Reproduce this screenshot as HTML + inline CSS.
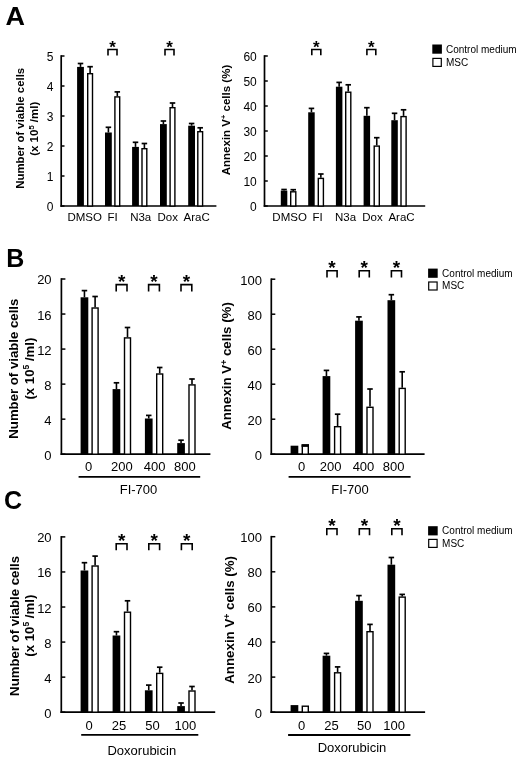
<!DOCTYPE html>
<html><head><meta charset="utf-8"><style>
html,body{margin:0;padding:0;background:#fff;}
svg{display:block;will-change:transform;}
text{font-family:"Liberation Sans", sans-serif;fill:#000;}
</style></head><body>
<svg width="520" height="760" viewBox="0 0 520 760">
<rect width="520" height="760" fill="#fff"/>
<text transform="translate(5.4,25.0) scale(1.07,1.0)" font-size="25.2" font-weight="bold">A</text>
<text x="6.20" y="266.90" font-size="25" text-anchor="start" font-weight="bold" >B</text>
<text x="4.00" y="509.00" font-size="25" text-anchor="start" font-weight="bold" >C</text>
<line x1="61.20" y1="55.20" x2="61.20" y2="206.80" stroke="#000" stroke-width="1.7"/>
<line x1="61.20" y1="206.00" x2="64.50" y2="206.00" stroke="#000" stroke-width="1.5"/>
<text x="53.50" y="211.12" font-size="12" text-anchor="end" font-weight="normal" >0</text>
<line x1="61.20" y1="176.00" x2="64.50" y2="176.00" stroke="#000" stroke-width="1.5"/>
<text x="53.50" y="181.12" font-size="12" text-anchor="end" font-weight="normal" >1</text>
<line x1="61.20" y1="146.00" x2="64.50" y2="146.00" stroke="#000" stroke-width="1.5"/>
<text x="53.50" y="151.12" font-size="12" text-anchor="end" font-weight="normal" >2</text>
<line x1="61.20" y1="116.00" x2="64.50" y2="116.00" stroke="#000" stroke-width="1.5"/>
<text x="53.50" y="121.12" font-size="12" text-anchor="end" font-weight="normal" >3</text>
<line x1="61.20" y1="86.00" x2="64.50" y2="86.00" stroke="#000" stroke-width="1.5"/>
<text x="53.50" y="91.12" font-size="12" text-anchor="end" font-weight="normal" >4</text>
<line x1="61.20" y1="56.00" x2="64.50" y2="56.00" stroke="#000" stroke-width="1.5"/>
<text x="53.50" y="61.12" font-size="12" text-anchor="end" font-weight="normal" >5</text>
<line x1="60.40" y1="206.00" x2="216.40" y2="206.00" stroke="#000" stroke-width="1.7"/>
<rect x="77.10" y="66.90" width="6.80" height="139.10" fill="#000"/>
<line x1="80.50" y1="66.90" x2="80.50" y2="63.50" stroke="#000" stroke-width="1.6"/>
<line x1="77.75" y1="63.50" x2="83.25" y2="63.50" stroke="#000" stroke-width="1.7"/>
<rect x="87.70" y="73.70" width="4.80" height="132.30" fill="#fff" stroke="#000" stroke-width="1.4"/>
<line x1="90.10" y1="73.00" x2="90.10" y2="66.70" stroke="#000" stroke-width="1.6"/>
<line x1="87.35" y1="66.70" x2="92.85" y2="66.70" stroke="#000" stroke-width="1.7"/>
<rect x="105.00" y="132.50" width="6.80" height="73.50" fill="#000"/>
<line x1="108.40" y1="132.50" x2="108.40" y2="127.30" stroke="#000" stroke-width="1.6"/>
<line x1="105.65" y1="127.30" x2="111.15" y2="127.30" stroke="#000" stroke-width="1.7"/>
<rect x="114.90" y="96.90" width="4.80" height="109.10" fill="#fff" stroke="#000" stroke-width="1.4"/>
<line x1="117.30" y1="96.20" x2="117.30" y2="91.90" stroke="#000" stroke-width="1.6"/>
<line x1="114.55" y1="91.90" x2="120.05" y2="91.90" stroke="#000" stroke-width="1.7"/>
<rect x="132.10" y="146.90" width="6.80" height="59.10" fill="#000"/>
<line x1="135.50" y1="146.90" x2="135.50" y2="142.30" stroke="#000" stroke-width="1.6"/>
<line x1="132.75" y1="142.30" x2="138.25" y2="142.30" stroke="#000" stroke-width="1.7"/>
<rect x="142.00" y="148.70" width="4.80" height="57.30" fill="#fff" stroke="#000" stroke-width="1.4"/>
<line x1="144.40" y1="148.00" x2="144.40" y2="143.50" stroke="#000" stroke-width="1.6"/>
<line x1="141.65" y1="143.50" x2="147.15" y2="143.50" stroke="#000" stroke-width="1.7"/>
<rect x="160.00" y="124.10" width="6.80" height="81.90" fill="#000"/>
<line x1="163.40" y1="124.10" x2="163.40" y2="121.00" stroke="#000" stroke-width="1.6"/>
<line x1="160.65" y1="121.00" x2="166.15" y2="121.00" stroke="#000" stroke-width="1.7"/>
<rect x="170.10" y="107.70" width="4.80" height="98.30" fill="#fff" stroke="#000" stroke-width="1.4"/>
<line x1="172.50" y1="107.00" x2="172.50" y2="103.00" stroke="#000" stroke-width="1.6"/>
<line x1="169.75" y1="103.00" x2="175.25" y2="103.00" stroke="#000" stroke-width="1.7"/>
<rect x="188.20" y="125.70" width="6.80" height="80.30" fill="#000"/>
<line x1="191.60" y1="125.70" x2="191.60" y2="123.50" stroke="#000" stroke-width="1.6"/>
<line x1="188.85" y1="123.50" x2="194.35" y2="123.50" stroke="#000" stroke-width="1.7"/>
<rect x="197.80" y="131.70" width="4.80" height="74.30" fill="#fff" stroke="#000" stroke-width="1.4"/>
<line x1="200.20" y1="131.00" x2="200.20" y2="127.80" stroke="#000" stroke-width="1.6"/>
<line x1="197.45" y1="127.80" x2="202.95" y2="127.80" stroke="#000" stroke-width="1.7"/>
<text x="84.70" y="221.00" font-size="11.5" text-anchor="middle" font-weight="normal" >DMSO</text>
<text x="112.70" y="221.00" font-size="11.5" text-anchor="middle" font-weight="normal" >FI</text>
<text x="140.70" y="221.00" font-size="11.5" text-anchor="middle" font-weight="normal" >N3a</text>
<text x="167.70" y="221.00" font-size="11.5" text-anchor="middle" font-weight="normal" >Dox</text>
<text x="196.70" y="221.00" font-size="11.5" text-anchor="middle" font-weight="normal" >AraC</text>
<path d="M108.00,55.40 V49.50 H117.00 V55.40" fill="none" stroke="#000" stroke-width="1.6"/>
<text x="112.50" y="52.60" font-size="17" text-anchor="middle" font-weight="bold" >*</text>
<path d="M165.00,55.40 V49.50 H174.00 V55.40" fill="none" stroke="#000" stroke-width="1.6"/>
<text x="169.50" y="52.60" font-size="17" text-anchor="middle" font-weight="bold" >*</text>
<text transform="translate(23.90,128.30) rotate(-90)" font-size="11.4" text-anchor="middle" font-weight="bold">Number of viable cells</text>
<text transform="translate(37.50,128.80) rotate(-90)" font-size="11.5" text-anchor="middle" font-weight="bold">(x 10<tspan font-size="7.5" dy="-3.6">5</tspan><tspan dy="3.6"> /ml)</tspan></text>
<line x1="264.50" y1="55.20" x2="264.50" y2="206.80" stroke="#000" stroke-width="1.7"/>
<line x1="264.50" y1="206.00" x2="267.80" y2="206.00" stroke="#000" stroke-width="1.5"/>
<text x="256.80" y="211.12" font-size="12" text-anchor="end" font-weight="normal" >0</text>
<line x1="264.50" y1="181.00" x2="267.80" y2="181.00" stroke="#000" stroke-width="1.5"/>
<text x="256.80" y="186.12" font-size="12" text-anchor="end" font-weight="normal" >10</text>
<line x1="264.50" y1="156.00" x2="267.80" y2="156.00" stroke="#000" stroke-width="1.5"/>
<text x="256.80" y="161.12" font-size="12" text-anchor="end" font-weight="normal" >20</text>
<line x1="264.50" y1="131.00" x2="267.80" y2="131.00" stroke="#000" stroke-width="1.5"/>
<text x="256.80" y="136.12" font-size="12" text-anchor="end" font-weight="normal" >30</text>
<line x1="264.50" y1="106.00" x2="267.80" y2="106.00" stroke="#000" stroke-width="1.5"/>
<text x="256.80" y="111.12" font-size="12" text-anchor="end" font-weight="normal" >40</text>
<line x1="264.50" y1="81.00" x2="267.80" y2="81.00" stroke="#000" stroke-width="1.5"/>
<text x="256.80" y="86.12" font-size="12" text-anchor="end" font-weight="normal" >50</text>
<line x1="264.50" y1="56.00" x2="267.80" y2="56.00" stroke="#000" stroke-width="1.5"/>
<text x="256.80" y="61.12" font-size="12" text-anchor="end" font-weight="normal" >60</text>
<line x1="263.70" y1="206.00" x2="425.20" y2="206.00" stroke="#000" stroke-width="1.7"/>
<rect x="280.80" y="190.60" width="6.50" height="15.40" fill="#000"/>
<line x1="284.05" y1="190.60" x2="284.05" y2="189.50" stroke="#000" stroke-width="1.6"/>
<line x1="281.30" y1="189.50" x2="286.80" y2="189.50" stroke="#000" stroke-width="1.7"/>
<rect x="290.70" y="191.80" width="5.10" height="14.20" fill="#fff" stroke="#000" stroke-width="1.4"/>
<line x1="293.25" y1="191.10" x2="293.25" y2="189.70" stroke="#000" stroke-width="1.6"/>
<line x1="290.50" y1="189.70" x2="296.00" y2="189.70" stroke="#000" stroke-width="1.7"/>
<rect x="308.20" y="112.30" width="6.50" height="93.70" fill="#000"/>
<line x1="311.45" y1="112.30" x2="311.45" y2="108.40" stroke="#000" stroke-width="1.6"/>
<line x1="308.70" y1="108.40" x2="314.20" y2="108.40" stroke="#000" stroke-width="1.7"/>
<rect x="318.30" y="178.40" width="5.10" height="27.60" fill="#fff" stroke="#000" stroke-width="1.4"/>
<line x1="320.85" y1="177.70" x2="320.85" y2="174.00" stroke="#000" stroke-width="1.6"/>
<line x1="318.10" y1="174.00" x2="323.60" y2="174.00" stroke="#000" stroke-width="1.7"/>
<rect x="335.90" y="86.70" width="6.50" height="119.30" fill="#000"/>
<line x1="339.15" y1="86.70" x2="339.15" y2="82.40" stroke="#000" stroke-width="1.6"/>
<line x1="336.40" y1="82.40" x2="341.90" y2="82.40" stroke="#000" stroke-width="1.7"/>
<rect x="345.70" y="92.20" width="5.10" height="113.80" fill="#fff" stroke="#000" stroke-width="1.4"/>
<line x1="348.25" y1="91.50" x2="348.25" y2="84.80" stroke="#000" stroke-width="1.6"/>
<line x1="345.50" y1="84.80" x2="351.00" y2="84.80" stroke="#000" stroke-width="1.7"/>
<rect x="363.60" y="115.80" width="6.50" height="90.20" fill="#000"/>
<line x1="366.85" y1="115.80" x2="366.85" y2="107.70" stroke="#000" stroke-width="1.6"/>
<line x1="364.10" y1="107.70" x2="369.60" y2="107.70" stroke="#000" stroke-width="1.7"/>
<rect x="374.20" y="146.10" width="5.10" height="59.90" fill="#fff" stroke="#000" stroke-width="1.4"/>
<line x1="376.75" y1="145.40" x2="376.75" y2="137.70" stroke="#000" stroke-width="1.6"/>
<line x1="374.00" y1="137.70" x2="379.50" y2="137.70" stroke="#000" stroke-width="1.7"/>
<rect x="391.30" y="120.20" width="6.50" height="85.80" fill="#000"/>
<line x1="394.55" y1="120.20" x2="394.55" y2="113.30" stroke="#000" stroke-width="1.6"/>
<line x1="391.80" y1="113.30" x2="397.30" y2="113.30" stroke="#000" stroke-width="1.7"/>
<rect x="401.00" y="116.60" width="5.10" height="89.40" fill="#fff" stroke="#000" stroke-width="1.4"/>
<line x1="403.55" y1="115.90" x2="403.55" y2="109.80" stroke="#000" stroke-width="1.6"/>
<line x1="400.80" y1="109.80" x2="406.30" y2="109.80" stroke="#000" stroke-width="1.7"/>
<text x="289.60" y="220.80" font-size="11.5" text-anchor="middle" font-weight="normal" >DMSO</text>
<text x="317.50" y="220.80" font-size="11.5" text-anchor="middle" font-weight="normal" >FI</text>
<text x="345.60" y="220.80" font-size="11.5" text-anchor="middle" font-weight="normal" >N3a</text>
<text x="372.50" y="220.80" font-size="11.5" text-anchor="middle" font-weight="normal" >Dox</text>
<text x="401.50" y="220.80" font-size="11.5" text-anchor="middle" font-weight="normal" >AraC</text>
<path d="M311.80,55.20 V49.50 H320.80 V55.20" fill="none" stroke="#000" stroke-width="1.6"/>
<text x="316.30" y="52.60" font-size="17" text-anchor="middle" font-weight="bold" >*</text>
<path d="M366.90,55.20 V49.50 H375.80 V55.20" fill="none" stroke="#000" stroke-width="1.6"/>
<text x="371.35" y="52.60" font-size="17" text-anchor="middle" font-weight="bold" >*</text>
<text transform="translate(230.40,120.00) rotate(-90)" font-size="11.5" text-anchor="middle" font-weight="bold">Annexin V<tspan font-size="7.5" dy="-4">+</tspan><tspan dy="4"> cells (%)</tspan></text>
<rect x="432.30" y="44.50" width="9.6" height="9.2" fill="#000"/>
<rect x="432.90" y="58.40" width="8.4" height="8.0" fill="#fff" stroke="#000" stroke-width="1.2"/>
<text x="446.00" y="52.80" font-size="10" text-anchor="start" font-weight="normal" >Control medium</text>
<text x="446.00" y="65.60" font-size="10" text-anchor="start" font-weight="normal" >MSC</text>
<line x1="61.40" y1="278.20" x2="61.40" y2="455.00" stroke="#000" stroke-width="1.7"/>
<line x1="61.40" y1="454.20" x2="65.40" y2="454.20" stroke="#000" stroke-width="1.5"/>
<text x="51.60" y="459.68" font-size="13" text-anchor="end" font-weight="normal" >0</text>
<line x1="61.40" y1="419.16" x2="65.40" y2="419.16" stroke="#000" stroke-width="1.5"/>
<text x="51.60" y="424.64" font-size="13" text-anchor="end" font-weight="normal" >4</text>
<line x1="61.40" y1="384.12" x2="65.40" y2="384.12" stroke="#000" stroke-width="1.5"/>
<text x="51.60" y="389.60" font-size="13" text-anchor="end" font-weight="normal" >8</text>
<line x1="61.40" y1="349.08" x2="65.40" y2="349.08" stroke="#000" stroke-width="1.5"/>
<text x="51.60" y="354.56" font-size="13" text-anchor="end" font-weight="normal" >12</text>
<line x1="61.40" y1="314.04" x2="65.40" y2="314.04" stroke="#000" stroke-width="1.5"/>
<text x="51.60" y="319.52" font-size="13" text-anchor="end" font-weight="normal" >16</text>
<line x1="61.40" y1="279.00" x2="65.40" y2="279.00" stroke="#000" stroke-width="1.5"/>
<text x="51.60" y="284.48" font-size="13" text-anchor="end" font-weight="normal" >20</text>
<line x1="60.60" y1="454.20" x2="210.40" y2="454.20" stroke="#000" stroke-width="1.7"/>
<rect x="80.60" y="297.30" width="7.70" height="156.90" fill="#000"/>
<line x1="84.45" y1="297.30" x2="84.45" y2="290.60" stroke="#000" stroke-width="1.6"/>
<line x1="81.70" y1="290.60" x2="87.20" y2="290.60" stroke="#000" stroke-width="1.7"/>
<rect x="92.10" y="308.00" width="6.00" height="146.20" fill="#fff" stroke="#000" stroke-width="1.4"/>
<line x1="95.10" y1="307.30" x2="95.10" y2="296.50" stroke="#000" stroke-width="1.6"/>
<line x1="92.35" y1="296.50" x2="97.85" y2="296.50" stroke="#000" stroke-width="1.7"/>
<rect x="112.60" y="389.10" width="7.70" height="65.10" fill="#000"/>
<line x1="116.45" y1="389.10" x2="116.45" y2="382.80" stroke="#000" stroke-width="1.6"/>
<line x1="113.70" y1="382.80" x2="119.20" y2="382.80" stroke="#000" stroke-width="1.7"/>
<rect x="124.50" y="337.90" width="6.00" height="116.30" fill="#fff" stroke="#000" stroke-width="1.4"/>
<line x1="127.50" y1="337.20" x2="127.50" y2="327.50" stroke="#000" stroke-width="1.6"/>
<line x1="124.75" y1="327.50" x2="130.25" y2="327.50" stroke="#000" stroke-width="1.7"/>
<rect x="144.90" y="418.50" width="7.70" height="35.70" fill="#000"/>
<line x1="148.75" y1="418.50" x2="148.75" y2="415.40" stroke="#000" stroke-width="1.6"/>
<line x1="146.00" y1="415.40" x2="151.50" y2="415.40" stroke="#000" stroke-width="1.7"/>
<rect x="156.70" y="374.00" width="6.00" height="80.20" fill="#fff" stroke="#000" stroke-width="1.4"/>
<line x1="159.70" y1="373.30" x2="159.70" y2="367.50" stroke="#000" stroke-width="1.6"/>
<line x1="156.95" y1="367.50" x2="162.45" y2="367.50" stroke="#000" stroke-width="1.7"/>
<rect x="177.20" y="443.10" width="7.70" height="11.10" fill="#000"/>
<line x1="181.05" y1="443.10" x2="181.05" y2="440.20" stroke="#000" stroke-width="1.6"/>
<line x1="178.30" y1="440.20" x2="183.80" y2="440.20" stroke="#000" stroke-width="1.7"/>
<rect x="189.00" y="384.90" width="6.00" height="69.30" fill="#fff" stroke="#000" stroke-width="1.4"/>
<line x1="192.00" y1="384.20" x2="192.00" y2="379.00" stroke="#000" stroke-width="1.6"/>
<line x1="189.25" y1="379.00" x2="194.75" y2="379.00" stroke="#000" stroke-width="1.7"/>
<text x="88.50" y="471.20" font-size="13" text-anchor="middle" font-weight="normal" >0</text>
<text x="121.90" y="471.20" font-size="13" text-anchor="middle" font-weight="normal" >200</text>
<text x="154.70" y="471.20" font-size="13" text-anchor="middle" font-weight="normal" >400</text>
<text x="184.80" y="471.20" font-size="13" text-anchor="middle" font-weight="normal" >800</text>
<line x1="78.60" y1="476.80" x2="200.20" y2="476.80" stroke="#000" stroke-width="1.8"/>
<text x="138.50" y="493.60" font-size="13" text-anchor="middle" font-weight="normal" >FI-700</text>
<path d="M116.20,291.60 V284.60 H127.00 V291.60" fill="none" stroke="#000" stroke-width="1.6"/>
<text x="121.60" y="288.00" font-size="19" text-anchor="middle" font-weight="bold" >*</text>
<path d="M148.60,291.60 V284.60 H159.40 V291.60" fill="none" stroke="#000" stroke-width="1.6"/>
<text x="154.00" y="288.00" font-size="19" text-anchor="middle" font-weight="bold" >*</text>
<path d="M181.00,291.60 V284.60 H191.80 V291.60" fill="none" stroke="#000" stroke-width="1.6"/>
<text x="186.40" y="288.00" font-size="19" text-anchor="middle" font-weight="bold" >*</text>
<text transform="translate(18.40,368.70) rotate(-90)" font-size="13.2" text-anchor="middle" font-weight="bold">Number of viable cells</text>
<text transform="translate(33.60,368.60) rotate(-90)" font-size="13.2" text-anchor="middle" font-weight="bold">(x 10<tspan font-size="8.6" dy="-4.5">5</tspan><tspan dy="4.5"> /ml)</tspan></text>
<line x1="271.30" y1="278.40" x2="271.30" y2="455.00" stroke="#000" stroke-width="1.7"/>
<line x1="271.30" y1="454.20" x2="275.30" y2="454.20" stroke="#000" stroke-width="1.5"/>
<text x="262.00" y="459.68" font-size="13" text-anchor="end" font-weight="normal" >0</text>
<line x1="271.30" y1="419.20" x2="275.30" y2="419.20" stroke="#000" stroke-width="1.5"/>
<text x="262.00" y="424.68" font-size="13" text-anchor="end" font-weight="normal" >20</text>
<line x1="271.30" y1="384.20" x2="275.30" y2="384.20" stroke="#000" stroke-width="1.5"/>
<text x="262.00" y="389.68" font-size="13" text-anchor="end" font-weight="normal" >40</text>
<line x1="271.30" y1="349.20" x2="275.30" y2="349.20" stroke="#000" stroke-width="1.5"/>
<text x="262.00" y="354.68" font-size="13" text-anchor="end" font-weight="normal" >60</text>
<line x1="271.30" y1="314.20" x2="275.30" y2="314.20" stroke="#000" stroke-width="1.5"/>
<text x="262.00" y="319.68" font-size="13" text-anchor="end" font-weight="normal" >80</text>
<line x1="271.30" y1="279.20" x2="275.30" y2="279.20" stroke="#000" stroke-width="1.5"/>
<text x="262.00" y="284.68" font-size="13" text-anchor="end" font-weight="normal" >100</text>
<line x1="270.50" y1="454.20" x2="424.60" y2="454.20" stroke="#000" stroke-width="1.7"/>
<rect x="290.60" y="445.70" width="7.70" height="8.50" fill="#000"/>
<rect x="302.30" y="445.00" width="6.00" height="9.20" fill="#fff" stroke="#000" stroke-width="1.4"/>
<rect x="322.60" y="376.10" width="7.70" height="78.10" fill="#000"/>
<line x1="326.45" y1="376.10" x2="326.45" y2="370.40" stroke="#000" stroke-width="1.6"/>
<line x1="323.70" y1="370.40" x2="329.20" y2="370.40" stroke="#000" stroke-width="1.7"/>
<rect x="334.60" y="426.70" width="6.00" height="27.50" fill="#fff" stroke="#000" stroke-width="1.4"/>
<line x1="337.60" y1="426.00" x2="337.60" y2="414.20" stroke="#000" stroke-width="1.6"/>
<line x1="334.85" y1="414.20" x2="340.35" y2="414.20" stroke="#000" stroke-width="1.7"/>
<rect x="355.10" y="320.70" width="7.70" height="133.50" fill="#000"/>
<line x1="358.95" y1="320.70" x2="358.95" y2="316.90" stroke="#000" stroke-width="1.6"/>
<line x1="356.20" y1="316.90" x2="361.70" y2="316.90" stroke="#000" stroke-width="1.7"/>
<rect x="367.00" y="407.30" width="6.00" height="46.90" fill="#fff" stroke="#000" stroke-width="1.4"/>
<line x1="370.00" y1="406.60" x2="370.00" y2="389.00" stroke="#000" stroke-width="1.6"/>
<line x1="367.25" y1="389.00" x2="372.75" y2="389.00" stroke="#000" stroke-width="1.7"/>
<rect x="387.50" y="300.20" width="7.70" height="154.00" fill="#000"/>
<line x1="391.35" y1="300.20" x2="391.35" y2="294.70" stroke="#000" stroke-width="1.6"/>
<line x1="388.60" y1="294.70" x2="394.10" y2="294.70" stroke="#000" stroke-width="1.7"/>
<rect x="399.20" y="388.40" width="6.00" height="65.80" fill="#fff" stroke="#000" stroke-width="1.4"/>
<line x1="402.20" y1="387.70" x2="402.20" y2="371.80" stroke="#000" stroke-width="1.6"/>
<line x1="399.45" y1="371.80" x2="404.95" y2="371.80" stroke="#000" stroke-width="1.7"/>
<text x="301.50" y="471.20" font-size="13" text-anchor="middle" font-weight="normal" >0</text>
<text x="330.60" y="471.20" font-size="13" text-anchor="middle" font-weight="normal" >200</text>
<text x="363.50" y="471.20" font-size="13" text-anchor="middle" font-weight="normal" >400</text>
<text x="393.60" y="471.20" font-size="13" text-anchor="middle" font-weight="normal" >800</text>
<rect x="301.6" y="444.3" width="7.4" height="2.6" fill="#000"/>
<line x1="288.60" y1="476.80" x2="410.60" y2="476.80" stroke="#000" stroke-width="1.8"/>
<text x="350.00" y="493.60" font-size="13" text-anchor="middle" font-weight="normal" >FI-700</text>
<path d="M327.00,277.50 V270.70 H337.10 V277.50" fill="none" stroke="#000" stroke-width="1.6"/>
<text x="332.05" y="274.00" font-size="19" text-anchor="middle" font-weight="bold" >*</text>
<path d="M359.20,277.50 V270.70 H369.30 V277.50" fill="none" stroke="#000" stroke-width="1.6"/>
<text x="364.25" y="274.00" font-size="19" text-anchor="middle" font-weight="bold" >*</text>
<path d="M391.40,277.50 V270.70 H401.50 V277.50" fill="none" stroke="#000" stroke-width="1.6"/>
<text x="396.45" y="274.00" font-size="19" text-anchor="middle" font-weight="bold" >*</text>
<text transform="translate(231.20,366.00) rotate(-90)" font-size="13.3" text-anchor="middle" font-weight="bold">Annexin V<tspan font-size="8.6" dy="-4.2">+</tspan><tspan dy="4.2"> cells (%)</tspan></text>
<rect x="428.10" y="268.60" width="9.6" height="9.2" fill="#000"/>
<rect x="428.70" y="282.00" width="8.4" height="8.0" fill="#fff" stroke="#000" stroke-width="1.2"/>
<text x="442.10" y="276.90" font-size="10" text-anchor="start" font-weight="normal" >Control medium</text>
<text x="442.10" y="289.30" font-size="10" text-anchor="start" font-weight="normal" >MSC</text>
<line x1="61.30" y1="536.10" x2="61.30" y2="713.00" stroke="#000" stroke-width="1.7"/>
<line x1="61.30" y1="712.20" x2="65.30" y2="712.20" stroke="#000" stroke-width="1.5"/>
<text x="51.60" y="717.68" font-size="13" text-anchor="end" font-weight="normal" >0</text>
<line x1="61.30" y1="677.14" x2="65.30" y2="677.14" stroke="#000" stroke-width="1.5"/>
<text x="51.60" y="682.62" font-size="13" text-anchor="end" font-weight="normal" >4</text>
<line x1="61.30" y1="642.08" x2="65.30" y2="642.08" stroke="#000" stroke-width="1.5"/>
<text x="51.60" y="647.56" font-size="13" text-anchor="end" font-weight="normal" >8</text>
<line x1="61.30" y1="607.02" x2="65.30" y2="607.02" stroke="#000" stroke-width="1.5"/>
<text x="51.60" y="612.50" font-size="13" text-anchor="end" font-weight="normal" >12</text>
<line x1="61.30" y1="571.96" x2="65.30" y2="571.96" stroke="#000" stroke-width="1.5"/>
<text x="51.60" y="577.44" font-size="13" text-anchor="end" font-weight="normal" >16</text>
<line x1="61.30" y1="536.90" x2="65.30" y2="536.90" stroke="#000" stroke-width="1.5"/>
<text x="51.60" y="542.38" font-size="13" text-anchor="end" font-weight="normal" >20</text>
<line x1="60.50" y1="712.20" x2="215.20" y2="712.20" stroke="#000" stroke-width="1.7"/>
<rect x="80.60" y="570.50" width="7.70" height="141.70" fill="#000"/>
<line x1="84.45" y1="570.50" x2="84.45" y2="562.70" stroke="#000" stroke-width="1.6"/>
<line x1="81.70" y1="562.70" x2="87.20" y2="562.70" stroke="#000" stroke-width="1.7"/>
<rect x="92.10" y="566.00" width="6.00" height="146.20" fill="#fff" stroke="#000" stroke-width="1.4"/>
<line x1="95.10" y1="565.30" x2="95.10" y2="556.10" stroke="#000" stroke-width="1.6"/>
<line x1="92.35" y1="556.10" x2="97.85" y2="556.10" stroke="#000" stroke-width="1.7"/>
<rect x="112.60" y="635.50" width="7.70" height="76.70" fill="#000"/>
<line x1="116.45" y1="635.50" x2="116.45" y2="631.70" stroke="#000" stroke-width="1.6"/>
<line x1="113.70" y1="631.70" x2="119.20" y2="631.70" stroke="#000" stroke-width="1.7"/>
<rect x="124.50" y="612.20" width="6.00" height="100.00" fill="#fff" stroke="#000" stroke-width="1.4"/>
<line x1="127.50" y1="611.50" x2="127.50" y2="600.80" stroke="#000" stroke-width="1.6"/>
<line x1="124.75" y1="600.80" x2="130.25" y2="600.80" stroke="#000" stroke-width="1.7"/>
<rect x="144.90" y="690.30" width="7.70" height="21.90" fill="#000"/>
<line x1="148.75" y1="690.30" x2="148.75" y2="685.10" stroke="#000" stroke-width="1.6"/>
<line x1="146.00" y1="685.10" x2="151.50" y2="685.10" stroke="#000" stroke-width="1.7"/>
<rect x="156.70" y="673.40" width="6.00" height="38.80" fill="#fff" stroke="#000" stroke-width="1.4"/>
<line x1="159.70" y1="672.70" x2="159.70" y2="667.20" stroke="#000" stroke-width="1.6"/>
<line x1="156.95" y1="667.20" x2="162.45" y2="667.20" stroke="#000" stroke-width="1.7"/>
<rect x="177.20" y="706.10" width="7.70" height="6.10" fill="#000"/>
<line x1="181.05" y1="706.10" x2="181.05" y2="703.00" stroke="#000" stroke-width="1.6"/>
<line x1="178.30" y1="703.00" x2="183.80" y2="703.00" stroke="#000" stroke-width="1.7"/>
<rect x="189.00" y="691.00" width="6.00" height="21.20" fill="#fff" stroke="#000" stroke-width="1.4"/>
<line x1="192.00" y1="690.30" x2="192.00" y2="686.50" stroke="#000" stroke-width="1.6"/>
<line x1="189.25" y1="686.50" x2="194.75" y2="686.50" stroke="#000" stroke-width="1.7"/>
<text x="89.20" y="729.60" font-size="13" text-anchor="middle" font-weight="normal" >0</text>
<text x="118.90" y="729.60" font-size="13" text-anchor="middle" font-weight="normal" >25</text>
<text x="152.40" y="729.60" font-size="13" text-anchor="middle" font-weight="normal" >50</text>
<text x="185.40" y="729.60" font-size="13" text-anchor="middle" font-weight="normal" >100</text>
<line x1="81.20" y1="734.90" x2="198.30" y2="734.90" stroke="#000" stroke-width="1.8"/>
<text x="141.80" y="755.00" font-size="13" text-anchor="middle" font-weight="normal" >Doxorubicin</text>
<path d="M116.20,550.30 V543.80 H127.00 V550.30" fill="none" stroke="#000" stroke-width="1.6"/>
<text x="121.60" y="547.10" font-size="19" text-anchor="middle" font-weight="bold" >*</text>
<path d="M148.80,550.30 V543.80 H159.60 V550.30" fill="none" stroke="#000" stroke-width="1.6"/>
<text x="154.20" y="547.10" font-size="19" text-anchor="middle" font-weight="bold" >*</text>
<path d="M181.40,550.30 V543.80 H192.20 V550.30" fill="none" stroke="#000" stroke-width="1.6"/>
<text x="186.80" y="547.10" font-size="19" text-anchor="middle" font-weight="bold" >*</text>
<text transform="translate(18.60,625.90) rotate(-90)" font-size="13.2" text-anchor="middle" font-weight="bold">Number of viable cells</text>
<text transform="translate(33.60,625.70) rotate(-90)" font-size="13.2" text-anchor="middle" font-weight="bold">(x 10<tspan font-size="8.6" dy="-4.5">5</tspan><tspan dy="4.5"> /ml)</tspan></text>
<line x1="271.30" y1="535.90" x2="271.30" y2="713.00" stroke="#000" stroke-width="1.7"/>
<line x1="271.30" y1="712.20" x2="275.30" y2="712.20" stroke="#000" stroke-width="1.5"/>
<text x="262.00" y="717.68" font-size="13" text-anchor="end" font-weight="normal" >0</text>
<line x1="271.30" y1="677.10" x2="275.30" y2="677.10" stroke="#000" stroke-width="1.5"/>
<text x="262.00" y="682.58" font-size="13" text-anchor="end" font-weight="normal" >20</text>
<line x1="271.30" y1="642.00" x2="275.30" y2="642.00" stroke="#000" stroke-width="1.5"/>
<text x="262.00" y="647.48" font-size="13" text-anchor="end" font-weight="normal" >40</text>
<line x1="271.30" y1="606.90" x2="275.30" y2="606.90" stroke="#000" stroke-width="1.5"/>
<text x="262.00" y="612.38" font-size="13" text-anchor="end" font-weight="normal" >60</text>
<line x1="271.30" y1="571.80" x2="275.30" y2="571.80" stroke="#000" stroke-width="1.5"/>
<text x="262.00" y="577.28" font-size="13" text-anchor="end" font-weight="normal" >80</text>
<line x1="271.30" y1="536.70" x2="275.30" y2="536.70" stroke="#000" stroke-width="1.5"/>
<text x="262.00" y="542.18" font-size="13" text-anchor="end" font-weight="normal" >100</text>
<line x1="270.50" y1="712.20" x2="425.10" y2="712.20" stroke="#000" stroke-width="1.7"/>
<rect x="290.60" y="705.10" width="7.70" height="7.10" fill="#000"/>
<rect x="302.30" y="706.20" width="6.00" height="6.00" fill="#fff" stroke="#000" stroke-width="1.4"/>
<rect x="322.60" y="655.70" width="7.70" height="56.50" fill="#000"/>
<line x1="326.45" y1="655.70" x2="326.45" y2="653.40" stroke="#000" stroke-width="1.6"/>
<line x1="323.70" y1="653.40" x2="329.20" y2="653.40" stroke="#000" stroke-width="1.7"/>
<rect x="334.60" y="672.80" width="6.00" height="39.40" fill="#fff" stroke="#000" stroke-width="1.4"/>
<line x1="337.60" y1="672.10" x2="337.60" y2="666.90" stroke="#000" stroke-width="1.6"/>
<line x1="334.85" y1="666.90" x2="340.35" y2="666.90" stroke="#000" stroke-width="1.7"/>
<rect x="355.10" y="600.80" width="7.70" height="111.40" fill="#000"/>
<line x1="358.95" y1="600.80" x2="358.95" y2="595.60" stroke="#000" stroke-width="1.6"/>
<line x1="356.20" y1="595.60" x2="361.70" y2="595.60" stroke="#000" stroke-width="1.7"/>
<rect x="367.00" y="631.70" width="6.00" height="80.50" fill="#fff" stroke="#000" stroke-width="1.4"/>
<line x1="370.00" y1="631.00" x2="370.00" y2="624.40" stroke="#000" stroke-width="1.6"/>
<line x1="367.25" y1="624.40" x2="372.75" y2="624.40" stroke="#000" stroke-width="1.7"/>
<rect x="387.50" y="564.70" width="7.70" height="147.50" fill="#000"/>
<line x1="391.35" y1="564.70" x2="391.35" y2="557.50" stroke="#000" stroke-width="1.6"/>
<line x1="388.60" y1="557.50" x2="394.10" y2="557.50" stroke="#000" stroke-width="1.7"/>
<rect x="399.20" y="597.10" width="6.00" height="115.10" fill="#fff" stroke="#000" stroke-width="1.4"/>
<line x1="402.20" y1="596.40" x2="402.20" y2="594.40" stroke="#000" stroke-width="1.6"/>
<line x1="399.45" y1="594.40" x2="404.95" y2="594.40" stroke="#000" stroke-width="1.7"/>
<text x="301.50" y="729.60" font-size="13" text-anchor="middle" font-weight="normal" >0</text>
<text x="331.40" y="729.60" font-size="13" text-anchor="middle" font-weight="normal" >25</text>
<text x="364.20" y="729.60" font-size="13" text-anchor="middle" font-weight="normal" >50</text>
<text x="394.10" y="729.60" font-size="13" text-anchor="middle" font-weight="normal" >100</text>
<line x1="288.10" y1="735.00" x2="410.40" y2="735.00" stroke="#000" stroke-width="1.8"/>
<text x="352.00" y="752.20" font-size="13" text-anchor="middle" font-weight="normal" >Doxorubicin</text>
<path d="M326.80,535.30 V528.70 H337.00 V535.30" fill="none" stroke="#000" stroke-width="1.6"/>
<text x="331.90" y="532.10" font-size="19" text-anchor="middle" font-weight="bold" >*</text>
<path d="M359.30,535.30 V528.70 H369.50 V535.30" fill="none" stroke="#000" stroke-width="1.6"/>
<text x="364.40" y="532.10" font-size="19" text-anchor="middle" font-weight="bold" >*</text>
<path d="M391.80,535.30 V528.70 H402.00 V535.30" fill="none" stroke="#000" stroke-width="1.6"/>
<text x="396.90" y="532.10" font-size="19" text-anchor="middle" font-weight="bold" >*</text>
<text transform="translate(234.30,619.90) rotate(-90)" font-size="13.3" text-anchor="middle" font-weight="bold">Annexin V<tspan font-size="8.6" dy="-4.2">+</tspan><tspan dy="4.2"> cells (%)</tspan></text>
<rect x="428.10" y="526.20" width="9.6" height="9.2" fill="#000"/>
<rect x="428.70" y="539.40" width="8.4" height="8.0" fill="#fff" stroke="#000" stroke-width="1.2"/>
<text x="442.10" y="533.90" font-size="10" text-anchor="start" font-weight="normal" >Control medium</text>
<text x="442.10" y="546.60" font-size="10" text-anchor="start" font-weight="normal" >MSC</text>
</svg>
</body></html>
